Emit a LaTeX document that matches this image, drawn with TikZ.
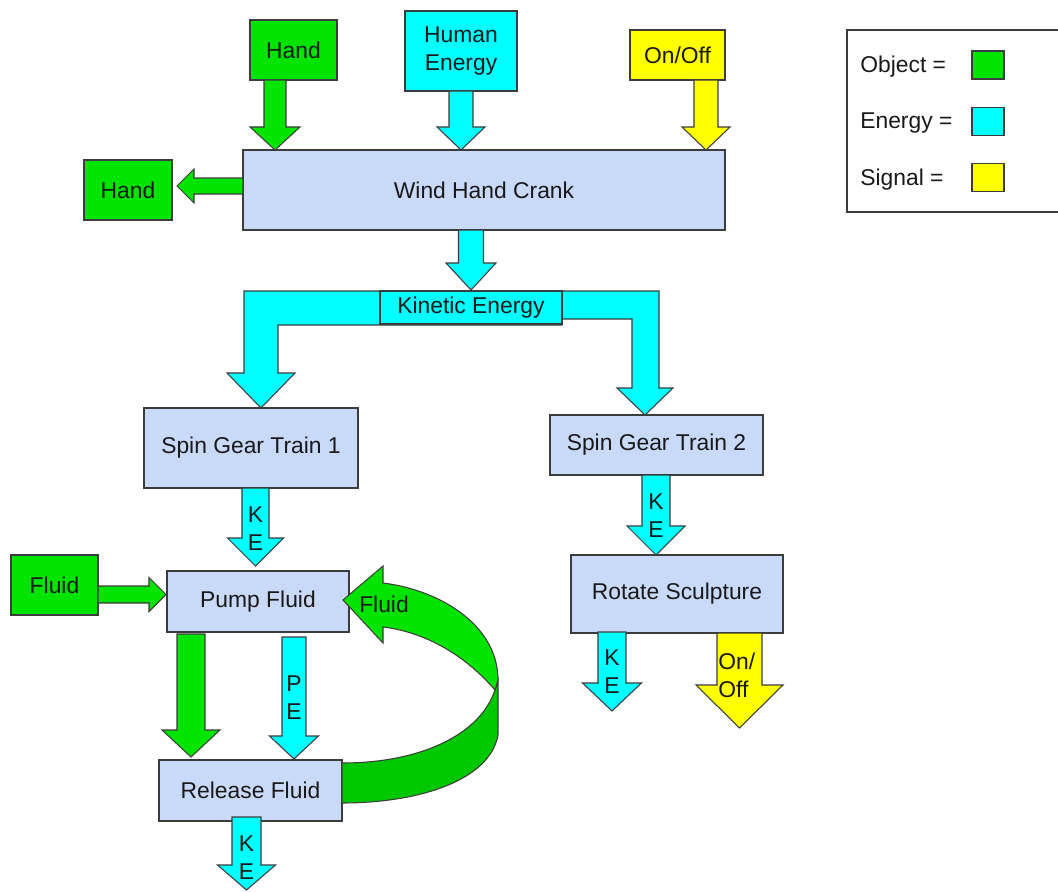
\documentclass[tikz,border=0pt]{standalone}
\usepackage{fontspec}
\setmainfont{Liberation Sans}
\definecolor{objg}{RGB}{0,228,0}
\definecolor{objd}{RGB}{0,200,0}
\definecolor{engc}{RGB}{0,255,255}
\definecolor{sigy}{RGB}{255,255,0}
\definecolor{boxblue}{RGB}{201,218,248}
\definecolor{lineg}{RGB}{60,60,60}
\definecolor{txt}{RGB}{25,25,25}
\newcommand{\pxu}{0.02cm}
\newcommand{\dfont}{\fontsize{13}{16}\selectfont}
% vertical block arrow: cx, top y, tip y, half shaft, half head, head base y, style
\newcommand{\blkdown}[7]{\path[#7] ({#1-#4},#2) -- ({#1+#4},#2) -- ({#1+#4},#6) -- ({#1+#5},#6) -- (#1,#3) -- ({#1-#5},#6) -- ({#1-#4},#6) -- cycle;}
% horizontal block arrow: cy, start x, tip x, half shaft, half head, head base x, style
\newcommand{\blkhor}[7]{\path[#7] (#2,{#1-#4}) -- (#6,{#1-#4}) -- (#6,{#1-#5}) -- (#3,#1) -- (#6,{#1+#5}) -- (#6,{#1+#4}) -- (#2,{#1+#4}) -- cycle;}
\tikzset{
  box/.style={draw=lineg, fill=boxblue, line width=0.7pt, inner sep=0pt, font=\dfont, text=txt, align=center},
  objbox/.style={box, fill=objg},
  engbox/.style={box, fill=engc},
  sigbox/.style={box, fill=sigy},
  objarrow/.style={draw=lineg, fill=objg, line width=0.6pt, line join=miter},
  objdark/.style={draw=lineg, fill=objd, line width=0.6pt},
  engarrow/.style={draw=lineg, fill=engc, line width=0.6pt},
  sigarrow/.style={draw=lineg, fill=sigy, line width=0.6pt},
  lbl/.style={font=\dfont, text=txt, inner sep=0pt, align=center},
  swatch/.style={draw=lineg, line width=0.7pt, minimum width=32*\pxu, minimum height=28*\pxu, inner sep=0pt}
}
\begin{document}
\begin{tikzpicture}[x=0.02cm, y=-0.02cm]
\useasboundingbox[fill=white] (0,0) rectangle (1058,892);

% ---- boxes ----
\node[objbox, minimum width=87*\pxu, minimum height=60*\pxu] (hand1) at (293.5,50) {Hand};
\node[engbox, minimum width=112*\pxu, minimum height=80*\pxu] (human) at (461,51) {Human\\Energy};
\node[sigbox, minimum width=95*\pxu, minimum height=50*\pxu] (onoff) at (677.5,55) {On/Off};
\node[box, minimum width=482*\pxu, minimum height=80*\pxu] (crank) at (484,190) {Wind Hand Crank};
\node[objbox, minimum width=88*\pxu, minimum height=60*\pxu] (hand2) at (128,190) {Hand};
\node[box, minimum width=214*\pxu, minimum height=80*\pxu] (sgt1) at (251,448) {Spin Gear Train 1};
\node[box, minimum width=213*\pxu, minimum height=60*\pxu] (sgt2) at (656.5,445) {Spin Gear Train 2};
\node[objbox, minimum width=87*\pxu, minimum height=60*\pxu] (fluid) at (54.5,585) {Fluid};
\node[box, minimum width=182*\pxu, minimum height=61*\pxu] (pump) at (258,601.5) {Pump Fluid};
\node[box, minimum width=183*\pxu, minimum height=61*\pxu] (release) at (250.5,790.5) {Release Fluid};
\node[box, minimum width=212*\pxu, minimum height=78*\pxu] (rotate) at (677,594) {Rotate Sculpture};

% ---- arrows into / out of the crank ----
\blkdown{275}{80}{150}{11}{25}{127}{objarrow}
\blkdown{461}{91}{150}{12}{24}{127}{engarrow}
\blkdown{706}{80}{150}{12}{24}{127}{sigarrow}
\blkhor{186}{243}{177}{8}{17}{194}{objarrow}
\blkdown{471}{230}{290}{12.5}{25}{263}{engarrow}

% ---- split kinetic energy arrow ----
\path[engarrow] (244,291) -- (659,291) -- (659,388) -- (673,388) -- (645,415) -- (617,388)
  -- (632,388) -- (632,319) -- (562,319) -- (562,325) -- (278,325) -- (278,373)
  -- (295,373) -- (261,408) -- (227,373) -- (244,373) -- cycle;
\node[engbox, minimum width=182*\pxu, minimum height=33*\pxu] (ke) at (471,307.5) {Kinetic Energy};

% ---- left branch ----
\blkdown{255.5}{488}{566}{13.5}{28}{538}{engarrow}
\node[lbl] (ke1) at (255.5,529) {K\\E};
\blkhor{594.5}{98}{166}{8.5}{17}{149}{objarrow}
\blkdown{191}{634}{757}{14}{29}{730}{objarrow}
\blkdown{294}{637}{759}{12}{24.5}{736}{engarrow}
\node[lbl] (pe) at (294,698) {P\\E};
\blkdown{246.5}{817}{890}{14.5}{29}{865}{engarrow}
\node[lbl] (ke2) at (246.5,858) {K\\E};

% ---- recirculating fluid arrow ----
\path[objdark] (342,763) .. controls (420,763) and (480,735) .. (495,690) -- (498,680)
  -- (498,735) .. controls (490,780) and (420,803) .. (342,803) -- cycle;
\path[objarrow] (343,600) -- (383,566) -- (383,583) .. controls (440,590) and (498,625) .. (498,680)
  -- (495,690) .. controls (465,655) and (425,632) .. (383,627) -- (383,643) -- cycle;
\node[lbl] (fluidlbl) at (384,604) {Fluid};

% ---- right branch ----
\blkdown{656}{475}{555}{14}{29}{526}{engarrow}
\node[lbl] (ke3) at (656,516) {K\\E};
\blkdown{612}{632}{711}{14}{29.5}{683}{engarrow}
\node[lbl] (ke4) at (612,672) {K\\E};
\blkdown{739.5}{633}{728}{22.5}{43.5}{685}{sigarrow}
\node[lbl, align=left, anchor=west] (onoff2) at (718,675) {On/\\Off};

% ---- legend ----
\draw[lineg, line width=0.7pt] (1058,30) -- (847,30) -- (847,212) -- (1058,212);
\node[lbl, anchor=west] (lobj) at (860,67) {Object =};
\node[lbl, anchor=west] (leng) at (860,123) {Energy =};
\node[lbl, anchor=west] (lsig) at (860,180) {Signal =};
\node[swatch, fill=objg] (sobj) at (988,65) {};
\node[swatch, fill=engc] (seng) at (988,121.5) {};
\node[swatch, fill=sigy] (ssig) at (988,177.5) {};
\end{tikzpicture}
\end{document}
